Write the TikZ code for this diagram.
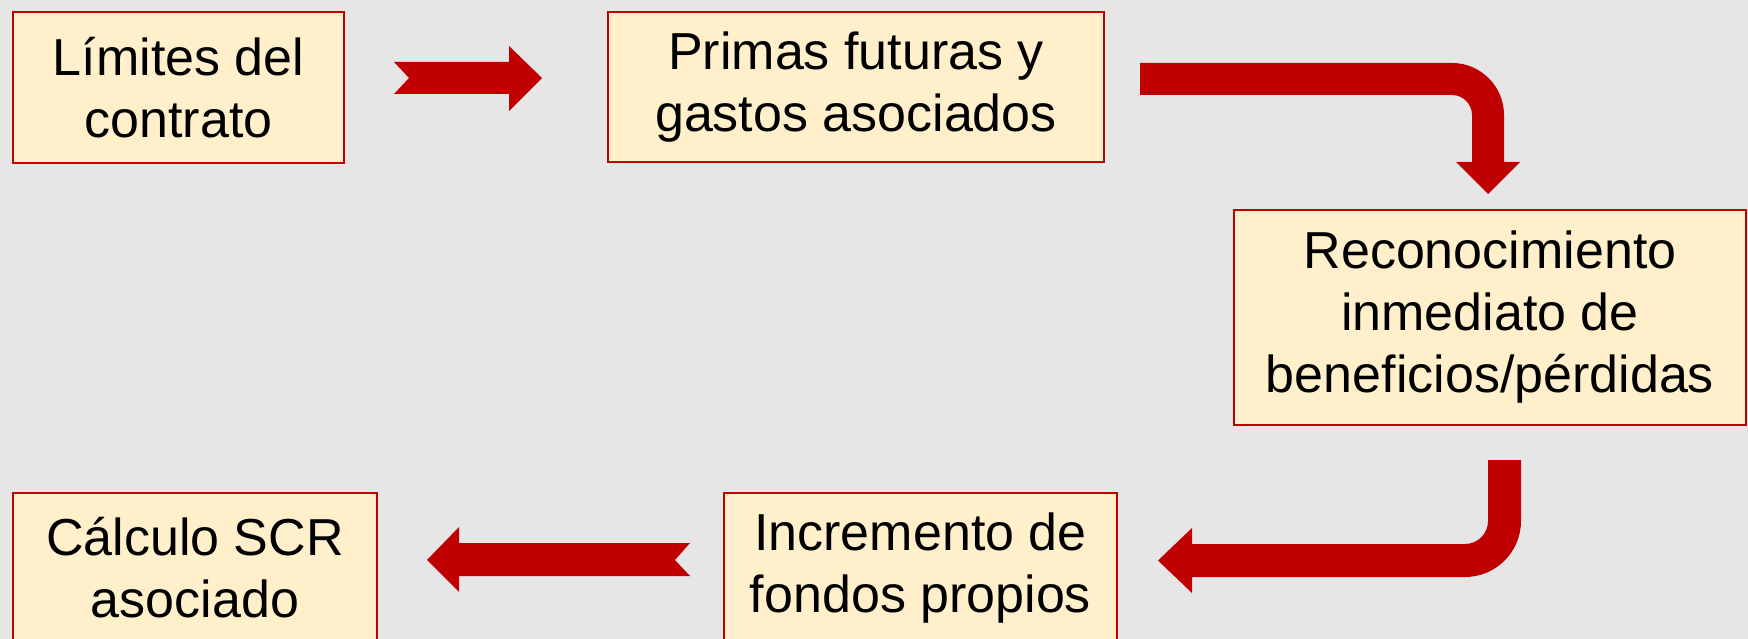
\documentclass[tikz,border=0pt]{standalone}
\usepackage{fontspec}
\setmainfont{Liberation Sans}
\definecolor{bggray}{HTML}{E6E6E6}
\definecolor{boxfill}{HTML}{FFEFCA}
\definecolor{darkred}{HTML}{C00000}
\begin{document}
\begin{tikzpicture}[x=1pt,y=-1pt,
  stepbox/.style={draw=darkred, line width=2pt, fill=boxfill, inner sep=0pt,
    align=center, font=\fontsize{52}{62}\selectfont},
  blockarrow/.style={fill=darkred, draw=none}]
\useasboundingbox (0,0) rectangle (1748,639);
\clip (0,0) rectangle (1748,639);
\fill[bggray] (0,0) rectangle (1748,639);

\node[stepbox, minimum width=331pt, minimum height=151pt] (b1) at (178.5,87.5) {Límites del\\contrato};
\node[stepbox, minimum width=496pt, minimum height=150pt] (b2) at (856,87) {Primas futuras y\\gastos asociados};
\node[stepbox, minimum width=512pt, minimum height=215pt] (b3) at (1490,317.5) {Reconocimiento\\inmediato de\\beneficios/pérdidas};
\node[stepbox, minimum width=393pt, minimum height=150pt] (b4) at (920.5,568) {Incremento de\\fondos propios};
\node[stepbox, minimum width=364pt, minimum height=150pt] (b5) at (195,568) {Cálculo SCR\\asociado};

% b1 -> b2
\fill[blockarrow] (394,62) -- (509,62) -- (509,46) -- (542,78) -- (509,111) -- (509,94) -- (394,94) -- (409,78) -- cycle;
% b2 -> b3
\fill[blockarrow] (1140,63) -- (1452,63) .. controls (1480.7,63) and (1504,86.3) .. (1504,115)
  -- (1504,162) -- (1520,162) -- (1488,194) -- (1456,162) -- (1472,162) -- (1472,115)
  .. controls (1472,104) and (1463,95) .. (1452,95) -- (1140,95) -- cycle;
% b3 -> b4
\fill[blockarrow] (1488,460) -- (1521,460) -- (1521,521) .. controls (1521,551.9) and (1495.9,577) .. (1465,577)
  -- (1192,577) -- (1192,593) -- (1158,560.5) -- (1192,528) -- (1192,544) -- (1465,544)
  .. controls (1477.7,544) and (1488,533.7) .. (1488,521) -- cycle;
% b4 -> b5
\fill[blockarrow] (427,560) -- (459,527) -- (459,543) -- (690,543) -- (675,560) -- (690,576) -- (459,576) -- (459,592) -- cycle;
\end{tikzpicture}
\end{document}
